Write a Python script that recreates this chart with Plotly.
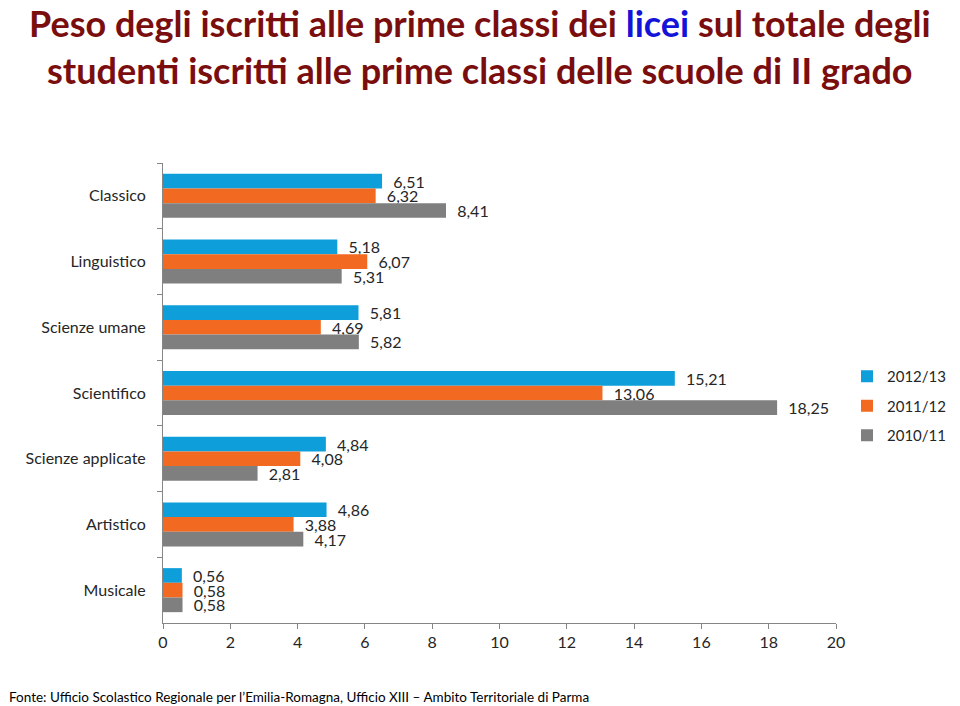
import plotly.graph_objects as go

categories = ["Classico", "Linguistico", "Scienze umane", "Scientifico",
              "Scienze applicate", "Artistico", "Musicale"]
series_names = ["2012/13", "2011/12", "2010/11"]
v_2012_13 = [6.51, 5.18, 5.81, 15.21, 4.84, 4.86, 0.56]
v_2011_12 = [6.32, 6.07, 4.69, 13.06, 4.08, 3.88, 0.58]
v_2010_11 = [8.41, 5.31, 5.82, 18.25, 2.81, 4.17, 0.58]
x_ticks = [0, 2, 4, 6, 8, 10, 12, 14, 16, 18, 20]

colors = ["#0E9FDA", "#F26A22", "#7F7F80"]
FONT = "Lato, 'Open Sans', sans-serif"
TXT = "#262626"

L, R, T, B = 163, 124, 163, 83
PW, PH = 960 - L - R, 706 - T - B

fig = go.Figure()
for name, vals, col in zip(series_names, [v_2012_13, v_2011_12, v_2010_11], colors):
    fig.add_trace(go.Bar(
        y=categories, x=vals, name=name, orientation="h",
        marker=dict(color=col, line=dict(width=0)),
        texttemplate="  %{x:.2f}", textposition="outside",
        constraintext="none",
        textfont=dict(family=FONT, size=16, color=TXT),
        cliponaxis=False, legendgroup=name,
    ))

fig.update_layout(
    width=960, height=706,
    margin=dict(l=L, r=R, t=T, b=B, autoexpand=False),
    paper_bgcolor="white", plot_bgcolor="white",
    barmode="group", bargap=0.33, bargroupgap=0,
    separators=",.",
    font=dict(family=FONT, size=15, color=TXT),
    showlegend=True,
    legend=dict(x=(847 - L) / PW, xanchor="left", y=(706 - B - 406) / PH, yanchor="middle",
                traceorder="grouped", tracegroupgap=7,
                font=dict(family=FONT, size=15, color=TXT),
                itemwidth=30),
    xaxis=dict(range=[0, 20], tickvals=x_ticks, showgrid=False, zeroline=False,
               showline=True, linecolor="#868686", linewidth=1,
               ticks="outside", ticklen=5, tickcolor="#868686",
               tickfont=dict(family=FONT, size=16, color=TXT)),
    yaxis=dict(autorange="reversed", showgrid=False, zeroline=False,
               showline=True, linecolor="#868686", linewidth=1,
               ticks="outside", ticklen=5, tickcolor="#868686", tickson="boundaries",
               ticklabelstandoff=13,
               tickfont=dict(family=FONT, size=16, color=TXT)),
    annotations=[
        dict(xref="paper", yref="paper", x=(480 - L) / PW, y=(706 - B - 23) / PH,
             xanchor="center", yanchor="middle", showarrow=False,
             text="<b>Peso degli iscritti alle prime classi dei <span style='color:#1414D8'>licei</span> sul totale degli</b>",
             font=dict(family=FONT, size=36, color="#7A0E0E")),
        dict(xref="paper", yref="paper", x=(480 - L) / PW, y=(706 - B - 70) / PH,
             xanchor="center", yanchor="middle", showarrow=False,
             text="<b>studenti iscritti alle prime classi delle scuole di II grado</b>",
             font=dict(family=FONT, size=36, color="#7A0E0E")),
        dict(xref="paper", yref="paper", x=(7 - L) / PW, y=(706 - B - 697) / PH,
             xanchor="left", yanchor="middle", showarrow=False,
             text="Fonte: Ufficio Scolastico Regionale per l\u2019Emilia-Romagna, Ufficio XIII \u2013 Ambito Territoriale di Parma",
             font=dict(family=FONT, size=13.5, color="#000000")),
    ],
)

fig.write_html("out.html", config={"displayModeBar": False},
               post_script="document.body.style.margin='0';document.body.style.overflow='hidden';")
